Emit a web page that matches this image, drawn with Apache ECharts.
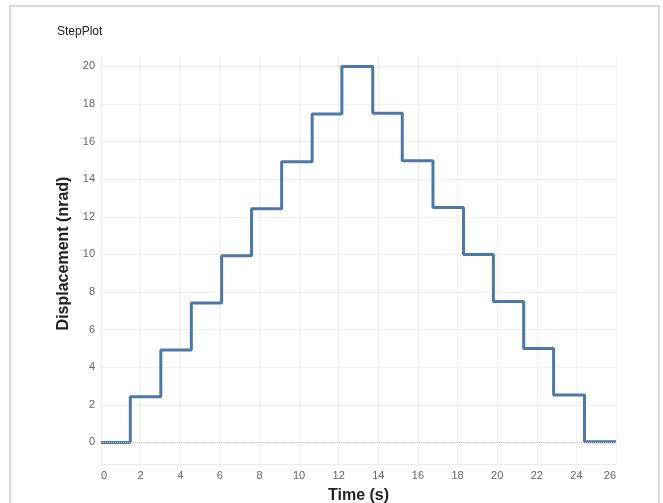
<!DOCTYPE html>
<html>
<head>
<meta charset="utf-8">
<script src="https://cdn.jsdelivr.net/npm/echarts@6/dist/echarts.min.js"></script>
<style>
  html, body { margin: 0; padding: 0; background: #fff; }
  .frame {
    position: absolute; left: 9px; top: 5px; width: 647px; height: 530px;
    border: 2px solid #d6dbe1; pointer-events: none;
  }
  #StepPlot { position: absolute; left: 0; top: 0; width: 663px; height: 503px; }
</style>
</head>
<body>
<div id="StepPlot"></div>
<div class="frame"></div>
<script>
// step start times (s) and displacement level (nrad) held from each start
var stepTimes = [0, 1.48, 3.02, 4.56, 6.09, 7.60, 9.12, 10.66, 12.16, 13.72, 15.21, 16.76, 18.30, 19.81, 21.34, 22.85, 24.41, 26.0]
var stepLevels = [0, 2.43, 4.92, 7.42, 9.93, 12.43, 14.93, 17.47, 20.0, 17.51, 14.98, 12.49, 10.0, 7.5, 5.0, 2.52, 0.03, 0.03]
var yTicks = [0, 2, 4, 6, 8, 10, 12, 14, 16, 18, 20]
var xTicks = [0, 2, 4, 6, 8, 10, 12, 14, 16, 18, 20, 22, 24, 26]

var font = 'Liberation Sans, Arial, sans-serif'
var chartDom = document.getElementById('StepPlot')
var myChart = echarts.init(chartDom)
var option

option = {
  animation: false,
  title: {
    text: 'StepPlot',
    left: 52,
    top: 21,
    textStyle: { color: '#222', fontSize: 12, fontWeight: 'normal', fontFamily: font }
  },
  grid: {
    left: 101,
    right: 47,
    top: 57,
    bottom: 39,
    outerBoundsMode: 'none'
  },
  xAxis: {
    type: 'value',
    min: 0,
    max: 26,
    name: 'Time (s)',
    nameLocation: 'middle',
    nameGap: 24,
    nameTextStyle: { color: '#222', fontSize: 16, fontWeight: 'bold', fontFamily: font },
    axisLine: { show: true, onZero: false, lineStyle: { color: '#ececec' } },
    axisTick: { show: false, customValues: xTicks },
    axisLabel: {
      customValues: xTicks,
      color: '#666',
      fontSize: 11,
      fontFamily: font,
      margin: 6,
      alignMinLabel: 'left',
      alignMaxLabel: 'right'
    },
    splitLine: { show: true, lineStyle: { color: '#f0f0f0' } }
  },
  yAxis: {
    type: 'value',
    min: -1.15,
    max: 20.5,
    name: 'Displacement (nrad)',
    nameLocation: 'middle',
    nameGap: 24,
    nameTextStyle: { color: '#222', fontSize: 16, fontWeight: 'bold', fontFamily: font, padding: [0, 0, 0, 14] },
    axisLine: { show: false },
    axisTick: { show: false, customValues: yTicks },
    axisLabel: {
      customValues: yTicks,
      color: '#666',
      fontSize: 11,
      fontFamily: font,
      margin: 6
    },
    splitLine: { show: true, lineStyle: { color: '#f0f0f0' } }
  },
  series: [
    {
      type: 'line',
      step: 'end',
      symbol: 'none',
      data: stepTimes.map(function(t, i) { return [t, stepLevels[i]] }),
      lineStyle: { color: '#4c78a8', width: 3 },
      markLine: {
        silent: true,
        symbol: 'none',
        label: { show: false },
        lineStyle: { color: '#c8c8c8', type: 'dotted', width: 1 },
        data: [{ yAxis: 0 }]
      },
      z: 3
    }
  ]
}
option && myChart.setOption(option)
</script>
</body>
</html>
